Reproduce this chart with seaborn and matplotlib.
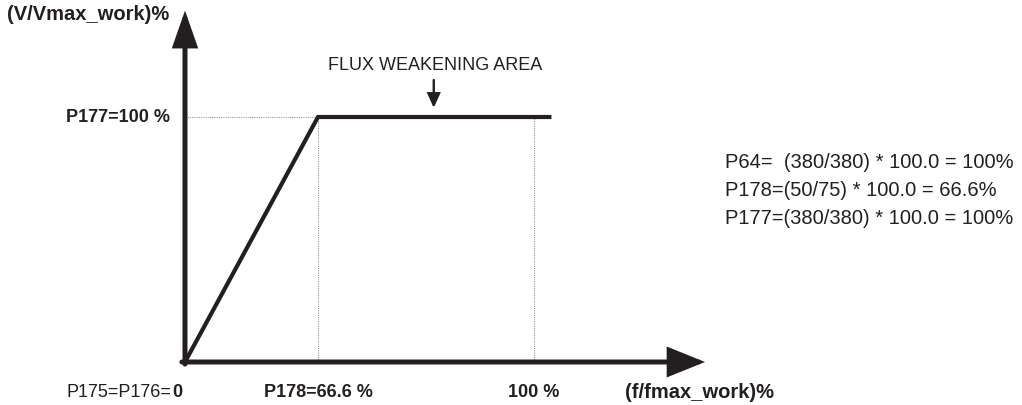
import numpy as np
import matplotlib
matplotlib.use("Agg")
import matplotlib.pyplot as plt
import seaborn as sns

# V/f curve values (percent)
freq_pct = [0, 66.6, 105]
volt_pct = [0, 100, 100]
knee_freq = 66.6
max_freq = 100
max_volt = 100

y_title = "(V/Vmax_work)%"
x_title = "(f/fmax_work)%"
y_tick_label = "P177=100 %"
knee_label = "P178=66.6 %"
max_label = "100 %"
origin_label = "P175=P176="
origin_value = "0"
area_label = "FLUX WEAKENING AREA"
notes = [
    "P64=  (380/380) * 100.0 = 100%",
    "P178=(50/75) * 100.0 = 66.6%",
    "P177=(380/380) * 100.0 = 100%",
]

INK = "#231f20"
GUIDE = "#9a9a9a"

sns.set_style("white")
plt.rcParams["font.family"] = ["Liberation Sans", "DejaVu Sans"]

# the drawing is a sketch, not to scale: piecewise-linear x axis (pixels)
X_BREAK = [-100, 0, knee_freq, max_freq, 300]
PX_BREAK = [-349, 0, 133, 349, 349 + 200 * 3.49]


def fwd(x):
    return np.interp(x, X_BREAK, PX_BREAK)


def inv(p):
    return np.interp(p, PX_BREAK, X_BREAK)


fig = plt.figure(figsize=(10.22, 4.05), dpi=100)
ax = fig.add_axes([185 / 1022, 43 / 405, 520 / 1022, 350 / 405])
ax.set_xscale("function", functions=(fwd, inv))
ax.set_xlim(0, 149)
ax.set_ylim(0, 142.86)
ax.axis("off")

# dotted guides
ax.hlines(max_volt, 0, knee_freq, color=GUIDE, lw=0.8, ls=(0, (1, 1)))
ax.vlines([knee_freq, max_freq], 0, max_volt, color=GUIDE, lw=0.8, ls=(0, (1, 1)))

sns.lineplot(x=freq_pct, y=volt_pct, ax=ax, color=INK, lw=3.0,
             solid_joinstyle="miter", solid_capstyle="butt")

# axes with arrow heads
ax.annotate("", xy=(0, 1.004), xytext=(0, -0.006), xycoords="axes fraction",
            arrowprops=dict(arrowstyle="-|>,head_length=2.0,head_width=0.7",
                            mutation_scale=10, lw=3.6, color=INK, joinstyle="miter",
                            shrinkA=0, shrinkB=0),
            annotation_clip=False)
ax.annotate("", xy=(1.0, 0), xytext=(-0.006, 0), xycoords="axes fraction",
            arrowprops=dict(arrowstyle="-|>,head_length=2.1,head_width=0.85",
                            mutation_scale=10, lw=3.6, color=INK, joinstyle="miter",
                            shrinkA=0, shrinkB=0),
            annotation_clip=False)

bold = dict(fontweight="bold", color=INK)
ax.annotate(y_title, xy=(0, 1), xycoords="axes fraction", xytext=(-11, -1.5),
            textcoords="offset points", ha="right", va="center", fontsize=14.5, **bold)
ax.annotate(y_tick_label, xy=(0, max_volt), xytext=(-11, 0), textcoords="offset points",
            ha="right", va="center", fontsize=13, annotation_clip=False, **bold)

ylab = -12.4
ax.text(knee_freq, ylab, knee_label, ha="center", va="center", fontsize=13, **bold)
ax.text(max_freq, ylab, max_label, ha="center", va="center", fontsize=13, **bold)
ax.annotate(x_title, xy=(0.846, 0), xycoords="axes fraction", xytext=(0, -22),
            textcoords="offset points", ha="left", va="center", fontsize=14.5,
            annotation_clip=False, **bold)
ax.annotate(origin_value, xy=(0, ylab), xytext=(-2, 0), textcoords="offset points",
            ha="right", va="center", fontsize=13, annotation_clip=False, **bold)
ax.annotate(origin_label, xy=(0, ylab), xytext=(-9.5, 0), textcoords="offset points",
            ha="right", va="center", fontsize=13, color=INK, annotation_clip=False)

# flux weakening marker
ax.text(84.7, 121.0, area_label, ha="center", va="center", fontsize=13, color=INK)
ax.annotate("", xy=(84.5, 103.7), xytext=(84.5, 115.1),
            arrowprops=dict(arrowstyle="-|>,head_length=0.85,head_width=0.38",
                            mutation_scale=10, lw=1.7, color=INK, joinstyle="miter",
                            shrinkA=0, shrinkB=0))

for i, line in enumerate(notes):
    fig.text(725 / 1022, 1 - (162 + 28.5 * i) / 405, line, ha="left", va="center",
             fontsize=14.5, color=INK)

fig.savefig("out.png", dpi=100)
plt.close(fig)
